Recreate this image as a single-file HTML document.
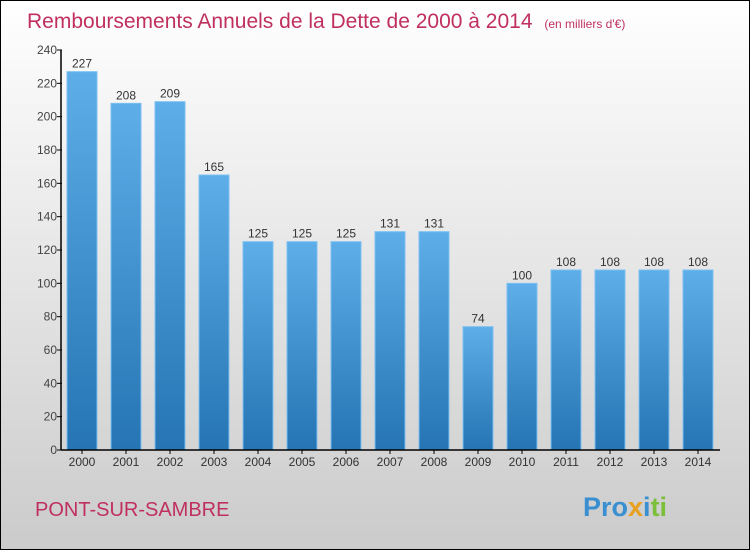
<!DOCTYPE html>
<html><head><meta charset="utf-8"><style>
body{margin:0;width:750px;height:550px;overflow:hidden;font-family:"Liberation Sans",sans-serif}
</style></head><body>
<svg width="750" height="550" xmlns="http://www.w3.org/2000/svg">
<defs>
<linearGradient id="bg" x1="0" y1="0" x2="0" y2="1"><stop offset="0" stop-color="#ffffff"/><stop offset="1" stop-color="#cbcbcb"/></linearGradient>
<linearGradient id="bar" x1="0" y1="0" x2="0" y2="1"><stop offset="0" stop-color="#5daee9"/><stop offset="1" stop-color="#2674b3"/></linearGradient>
</defs>
<rect x="0.5" y="0.5" width="749" height="549" fill="url(#bg)" stroke="#000"/>
<text x="27" y="28" font-size="21" fill="#c0305e">Remboursements Annuels de la Dette de 2000 à 2014 <tspan font-size="12" dx="6">(en milliers d'€)</tspan></text>
<g id="yaxis"></g>
<g id="bars"></g>
<g id="xaxis"></g>
<text x="35" y="516" font-size="20" fill="#c0305e">PONT-SUR-SAMBRE</text>
<text x="583" y="516" font-size="27" font-weight="bold"><tspan fill="#3a8fd0">Pro</tspan><tspan fill="#e8a020">x</tspan><tspan fill="#3a8fd0">i</tspan><tspan fill="#7cbf3a">ti</tspan></text>
</svg>
<script>
const years=["2000","2001","2002","2003","2004","2005","2006","2007","2008","2009","2010","2011","2012","2013","2014"];
const values=[227,208,209,165,125,125,125,131,131,74,100,108,108,108,108];
const yTicks=[0,20,40,60,80,100,120,140,160,180,200,220,240];
const ns="http://www.w3.org/2000/svg";
const y0=450,yTop=50,yMax=240,xL=61,step=44,bw=30;
const Y=v=>y0-(v/yMax)*(y0-yTop);
const X=i=>82+i*step;
function mk(t,a,p){const e=document.createElementNS(ns,t);for(const k in a)e.setAttribute(k,a[k]);p.appendChild(e);return e;}
const ya=document.getElementById('yaxis'),ba=document.getElementById('bars'),xa=document.getElementById('xaxis');
mk('line',{x1:xL,y1:yTop,x2:xL,y2:y0,stroke:'#000','stroke-width':1.5},ya);
yTicks.forEach(v=>{
 const l=mk('line',{x1:xL-4,y1:Y(v),x2:xL+1,y2:Y(v),stroke:'#000'},ya);
 
 
 const t=mk('text',{x:xL-4,y:Y(v)+4,'font-size':12,fill:'#444','text-anchor':'end'},ya);
 t.textContent=v;
 
 
});
mk('line',{x1:xL,y1:y0,x2:720,y2:y0,stroke:'#000','stroke-width':1.5},xa);
years.forEach((yr,i)=>{
 const v=values[i];
 const r=mk('rect',{x:X(i)-bw/2,y:Y(v),width:bw,height:y0-Y(v),fill:'url(#bar)',stroke:'#7cc0f0','stroke-width':1},ba);
 
 
 const t=mk('text',{x:X(i),y:Y(v)-4,'font-size':12,fill:'#333','text-anchor':'middle'},ba);
 t.textContent=v;
 
 
 const tk=mk('line',{x1:X(i),y1:y0,x2:X(i),y2:y0+4,stroke:'#000'},xa);
 
 
 const xl=mk('text',{x:X(i),y:y0+16,'font-size':12,fill:'#333','text-anchor':'middle'},xa);
 xl.textContent=yr;
 
 
});
</script>
</body></html>
